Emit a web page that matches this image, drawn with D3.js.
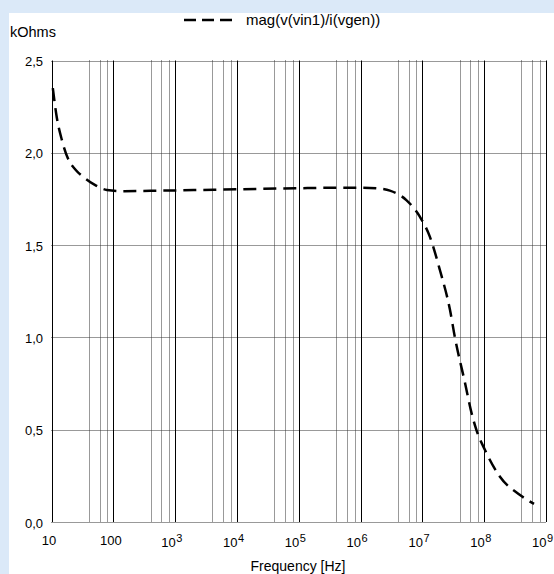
<!DOCTYPE html>
<html>
<head>
<meta charset="utf-8" />
<script src="https://d3js.org/d3.v7.min.js"></script>
<style>
	body { margin: 0; background: #dbe9f8; overflow: hidden; }
	svg { display: block; font-family: "Liberation Sans", Arial, sans-serif; }
</style>
</head>
<body>
<div id="chart"></div>
<script>
	// impedance magnitude
	var freq = [10.5, 12.2, 14.7, 18.4, 24.7, 34.6, 50.2, 78.5, 150, 400, 2000, 1e4, 1e5, 4.6e5, 9.7e5, 2e6, 2.98e6, 5.5e6, 9.1e6, 1.32e7, 1.92e7, 2.8e7, 3.36e7, 4.9e7, 6.25e7, 7.5e7, 1.03e8, 1.8e8, 3.8e8, 6.4e8];
	var kohms = [2.35, 2.19, 2.07, 1.97, 1.907, 1.863, 1.826, 1.799, 1.792, 1.794, 1.798, 1.802, 1.808, 1.811, 1.811, 1.806, 1.795, 1.744, 1.654, 1.546, 1.365, 1.148, 1.0, 0.753, 0.59, 0.498, 0.39, 0.245, 0.146, 0.098];
	var decades = [10, 100, 1e3, 1e4, 1e5, 1e6, 1e7, 1e8, 1e9];
	var minorSteps = [4, 6, 8];
	var yTicks = [0, 0.5, 1, 1.5, 2, 2.5];
	var legendText = "mag(v(vin1)/i(vgen))";

	var W = 554, H = 574;
	var margin = { left: 51.5, right: 546, top: 60.5, bottom: 522 };

	var svg = d3.select("#chart").append("svg")
		.attr("width", W)
		.attr("height", H);

	// white panel
	svg.append("rect")
		.attr("x", 9).attr("y", 13)
		.attr("width", W - 9).attr("height", H - 13)
		.attr("fill", "#fff");

	var x = d3.scaleLog().domain([10, 1e9]).range([margin.left, margin.right]);
	var y = d3.scaleLinear().domain([0, 2.5]).range([margin.bottom, margin.top]);

	// minor dotted verticals
	var minors = [];
	decades.slice(0, -1).forEach(function (d) {
		minorSteps.forEach(function (m) { minors.push(d * m); });
	});
	svg.append("g").selectAll("line")
		.data(minors)
		.enter().append("line")
		.attr("x1", function (d) { return Math.round(x(d)) + 0.5; })
		.attr("x2", function (d) { return Math.round(x(d)) + 0.5; })
		.attr("y1", margin.top).attr("y2", margin.bottom)
		.attr("stroke", "#333")
		.attr("stroke-dasharray", "1,1");

	// horizontal dotted grid
	svg.append("g").selectAll("line")
		.data(yTicks)
		.enter().append("line")
		.attr("x1", margin.left).attr("x2", margin.right)
		.attr("y1", function (d) { return Math.round(y(d)) + 0.5; })
		.attr("y2", function (d) { return Math.round(y(d)) + 0.5; })
		.attr("stroke", "#333")
		.attr("stroke-dasharray", "1,1");

	// solid decade lines
	svg.append("g").selectAll("line")
		.data(decades)
		.enter().append("line")
		.attr("x1", function (d) { return Math.round(x(d)) + 0.5; })
		.attr("x2", function (d) { return Math.round(x(d)) + 0.5; })
		.attr("y1", margin.top).attr("y2", margin.bottom)
		.attr("stroke", "#000");

	// y labels
	svg.append("g").selectAll("text")
		.data(yTicks)
		.enter().append("text")
		.attr("x", 43)
		.attr("y", function (d) { return y(d) + 5.5; })
		.attr("text-anchor", "end")
		.attr("font-size", 13)
		.text(function (d) { return d3.format(".1f")(d).replace(".", ","); });

	// x labels
	var xg = svg.append("g");
	decades.forEach(function (d) {
		var e = Math.round(Math.log10(d));
		if (e <= 2) {
			xg.append("text")
				.attr("x", x(d) - 2.5).attr("y", 545)
				.attr("text-anchor", "middle")
				.attr("font-size", 13)
				.text(d);
		} else {
			xg.append("text")
				.attr("x", x(d) + 0.5).attr("y", 547)
				.attr("text-anchor", "end")
				.attr("font-size", 13)
				.text("10");
			xg.append("text")
				.attr("x", x(d) + 1).attr("y", 541.5)
				.attr("font-size", 11)
				.text(e);
		}
	});

	svg.append("text")
		.attr("x", 298).attr("y", 571)
		.attr("text-anchor", "middle")
		.attr("font-size", 14)
		.text("Frequency [Hz]");

	svg.append("text")
		.attr("x", 10).attr("y", 37)
		.attr("font-size", 14.5)
		.text("kOhms");

	// legend
	svg.append("line")
		.attr("x1", 184).attr("x2", 232)
		.attr("y1", 20).attr("y2", 20)
		.attr("stroke", "#000")
		.attr("stroke-width", 2.5)
		.attr("stroke-dasharray", "12,6");
	svg.append("text")
		.attr("x", 246).attr("y", 25)
		.attr("font-size", 15)
		.text(legendText);

	// curve
	var line = d3.line()
		.x(function (d, i) { return x(freq[i]); })
		.y(function (d) { return y(d); })
		.curve(d3.curveMonotoneX);

	svg.append("path")
		.datum(kohms)
		.attr("d", line)
		.attr("fill", "none")
		.attr("stroke", "#000")
		.attr("stroke-width", 2.5)
		.attr("stroke-dasharray", "13,7");
</script>
</body>
</html>
